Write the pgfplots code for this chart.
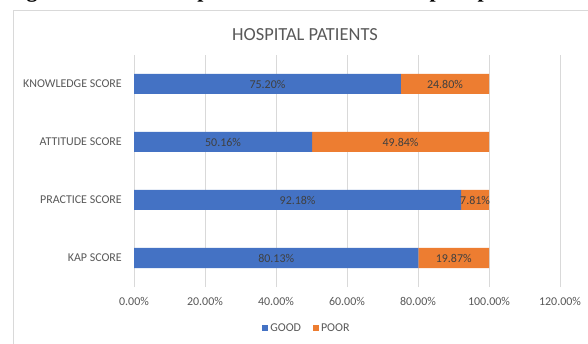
\documentclass[border=0pt]{standalone}
\usepackage{pgfplots}
\pgfplotsset{compat=1.18}
\usepackage{fontspec}
\setmainfont{Carlito}
\newfontfamily\capfont{Liberation Serif}
\definecolor{good}{HTML}{4472C4}
\definecolor{poor}{HTML}{ED7D31}
\definecolor{txt}{HTML}{595959}
\definecolor{lbl}{HTML}{404040}
\definecolor{gridc}{HTML}{D9D9D9}
\begin{document}
\begin{tikzpicture}
\useasboundingbox (0bp,0bp) rectangle (588bp,344bp);
\fill[white] (0bp,0bp) rectangle (588bp,344bp);
\draw[gridc, line width=0.75bp] (13bp,-5bp) rectangle (600bp,334bp);
\node[anchor=base west, font=\capfont\bfseries\fontsize{22}{22}\selectfont, inner sep=0] at (7bp,346.5bp) {Figure 5: Good and poor scores shown in hospital patients};
\node[txt, font=\fontsize{18.5}{18.5}\selectfont] at (305bp,309bp) {HOSPITAL PATIENTS};
\begin{axis}[
  at={(134bp,57bp)}, anchor=south west,
  scale only axis, width=426bp, height=232bp,
  xbar stacked, bar width=20bp,
  xmin=0, xmax=120, ymin=-0.5, ymax=3.5,
  xtick={0,20,40,60,80,100,120},
  xticklabels={0.00\%,20.00\%,40.00\%,60.00\%,80.00\%,100.00\%,120.00\%},
  ytick={0,1,2,3},
  yticklabels={KAP SCORE, PRACTICE SCORE, ATTITUDE SCORE, KNOWLEDGE SCORE},
  axis line style={draw=none},
  major tick length=0,
  xmajorgrids, grid style={gridc, line width=0.75bp},
  tick label style={txt, font=\fontsize{12}{12}\selectfont},
  yticklabel style={anchor=east, inner sep=0, xshift=-12bp},
  xticklabel style={anchor=north, inner sep=0, yshift=-10bp},
  legend style={at={(0.406,-0.177)}, anchor=center, draw=none, fill=none,
    legend columns=2, font=\fontsize{12}{12}\selectfont, text=txt,
    /tikz/every even column/.append style={column sep=10bp}},
  legend image code/.code={\fill[#1] (0bp,-3bp) rectangle (6bp,3bp);},
]
\addplot[fill=good, draw=none] coordinates {(80.13,0) (92.18,1) (50.16,2) (75.20,3)};
\addlegendentry{GOOD}
\addplot[fill=poor, draw=none] coordinates {(19.87,0) (7.81,1) (49.84,2) (24.80,3)};
\addlegendentry{POOR}
\end{axis}
\begin{axis}[
  at={(134bp,57bp)}, anchor=south west,
  scale only axis, width=426bp, height=232bp,
  xmin=0, xmax=120, ymin=-0.5, ymax=3.5,
  hide axis, clip=false,
]
\addplot[draw=none, mark=none, nodes near coords, point meta=explicit symbolic,
  every node near coord/.append style={lbl, anchor=center, font=\fontsize{12}{12}\selectfont}]
  coordinates {
  (40.065,0) [80.13\%] (90.065,0) [19.87\%]
  (46.09,1) [92.18\%] (96.085,1) [7.81\%]
  (25.08,2) [50.16\%] (75.08,2) [49.84\%]
  (37.60,3) [75.20\%] (87.60,3) [24.80\%]
  };
\end{axis}
\end{tikzpicture}
\end{document}
